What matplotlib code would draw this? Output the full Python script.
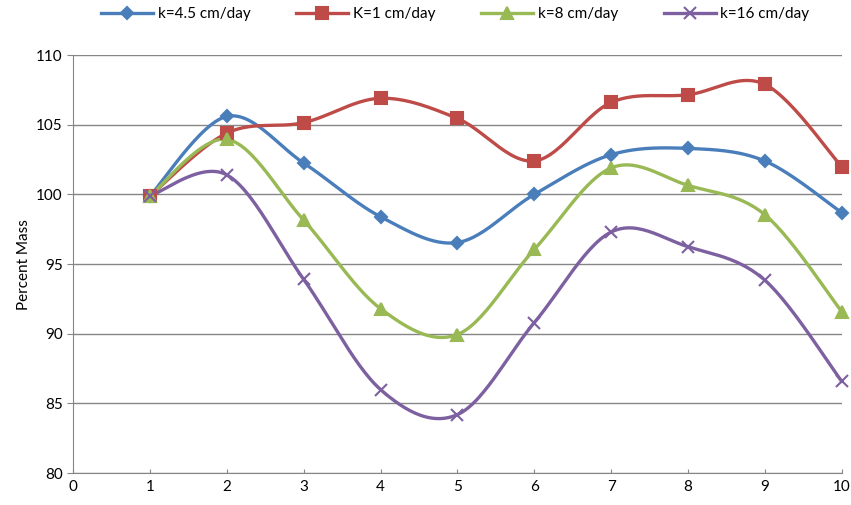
import numpy as np
import matplotlib
matplotlib.use("Agg")
import matplotlib.pyplot as plt

plt.rcParams['font.family'] = ['Lato', 'DejaVu Sans']

x = [1, 2, 3, 4, 5, 6, 7, 8, 9, 10]
k45 = [99.9, 105.6, 102.25, 98.4, 96.55, 100.0, 102.85, 103.3, 102.4, 98.7]
k1 = [99.9, 104.4, 105.15, 106.9, 105.45, 102.4, 106.6, 107.15, 107.9, 102.0]
k8 = [99.9, 103.95, 98.15, 91.8, 89.95, 96.05, 101.9, 100.65, 98.55, 91.6]
k16 = [99.9, 101.4, 93.9, 86.0, 84.2, 90.8, 97.3, 96.25, 93.85, 86.6]

labels = ['k=4.5 cm/day', 'K=1 cm/day', 'k=8 cm/day', 'k=16 cm/day']
colors = ['#4A7EBB', '#BE4B48', '#98B954', '#7D60A0']
markers = ['D', 's', '^', 'x']
sizes = [6.5, 8.5, 8.5, 8]


def smooth(xs, ys, n=30):
    # Excel-style smoothed line: cubic bezier with 1/6 neighbour tangents
    p = np.column_stack([xs, ys]).astype(float)
    pts = []
    for i in range(len(p) - 1):
        p0 = p[i - 1] if i > 0 else p[i]
        p3 = p[i + 2] if i + 2 < len(p) else p[i + 1]
        c1 = p[i] + (p[i + 1] - p0) / 6
        c2 = p[i + 1] - (p3 - p[i]) / 6
        t = np.linspace(0, 1, n)[:, None]
        seg = ((1 - t) ** 3 * p[i] + 3 * (1 - t) ** 2 * t * c1
               + 3 * (1 - t) * t ** 2 * c2 + t ** 3 * p[i + 1])
        pts.append(seg)
    pts = np.vstack(pts)
    return pts[:, 0], pts[:, 1]


fig = plt.figure(figsize=(8.51, 5.05), dpi=100)
ax = fig.add_axes([0.086, 0.063, 0.903, 0.828])

handles = []
for ys, lab, c, m, s in zip([k45, k1, k8, k16], labels, colors, markers, sizes):
    sx, sy = smooth(x, ys)
    ax.plot(sx, sy, color=c, lw=2.4, zorder=3, clip_on=False)
    ax.plot(x, ys, ls='none', marker=m, ms=s, color=c, mew=1.5, zorder=4, clip_on=False)
    h, = ax.plot([], [], color=c, lw=2.4, marker=m, ms=s, mew=1.5)
    handles.append(h)

ax.set_xlim(0, 10)
ax.set_ylim(80, 110)
ax.set_xticks(range(0, 11))
ax.set_yticks(range(80, 111, 5))
ax.yaxis.grid(True, color='#868686', lw=1)
ax.set_axisbelow(True)
for sp in ['top', 'right']:
    ax.spines[sp].set_visible(False)
for sp in ['left', 'bottom']:
    ax.spines[sp].set_color('#868686')
ax.tick_params(colors='#868686', labelcolor='black', labelsize=11)
ax.tick_params(axis='y', length=4)
ax.tick_params(axis='x', direction='in', length=3, pad=5)
ax.set_ylabel('Percent Mass', fontsize=11)

fig.legend(handles, labels, loc='center', bbox_to_anchor=(0.535, 0.972), ncol=4,
           frameon=False, fontsize=11, handlelength=3.4, handletextpad=0.3,
           columnspacing=3.0)

fig.savefig('out.png', dpi=100)
